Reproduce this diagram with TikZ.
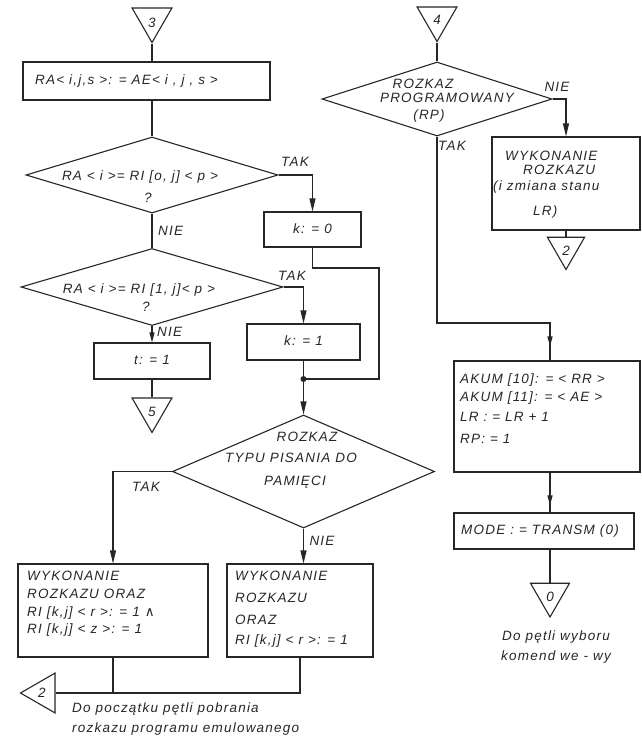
\documentclass[tikz,border=0pt]{standalone}
\usepackage{fontspec}
\setmainfont{Liberation Sans}[LetterSpace=9]
\newfontfamily\symfam{DejaVu Sans}
\usetikzlibrary{shapes.geometric,arrows.meta}
\definecolor{ink}{HTML}{262626}
\begin{document}
\begin{tikzpicture}[x=1pt,y=-1pt,
  every node/.style={text=ink},
  ln/.style={draw=ink, line width=1.1pt},
  arr/.style={ln, -{Triangle[length=13pt,width=6pt]}},
  smallarr/.style={ln, -{Triangle[length=10pt,width=5pt]}},
  box/.style={ln, rectangle, inner sep=0pt},
  dia/.style={ln, diamond, inner sep=0pt},
  tri/.style={ln, regular polygon, regular polygon sides=3, inner sep=0pt, minimum size=46pt},
  tx/.style={font=\itshape\fontsize{13.5}{16}\selectfont, inner sep=0pt, text height=10pt, text depth=3pt},
]
\useasboundingbox (0,0) rectangle (642,739);

% ---------- left branch: connector 3 ----------
\node[tri, shape border rotate=180] (t3) at (152,19.5) {};
\node[tx] (t3l) at (152,24) {3};
\node[box, minimum width=247pt, minimum height=38pt] (b1) at (146.5,81) {};
\node[tx, anchor=west] (b1t) at (35,81) {RA< i,j,s >: = AE< i , j , s >};

\node[dia, minimum width=252pt, minimum height=76pt] (d1) at (152,175) {};
\node[tx] (d1t) at (140,177) {RA < i >= RI [o, j] < p >};
\node[tx] (d1q) at (148,199) {?};
\node[tx] (d1y) at (295,163) {TAK};
\node[tx, anchor=west] (d1n) at (158,232) {NIE};

\node[dia, minimum width=262pt, minimum height=77pt] (d2) at (152,287) {};
\node[tx] (d2t) at (139,290) {RA < i >= RI [1, j]< p >};
\node[tx] (d2q) at (146,308) {?};
\node[tx] (d2y) at (292,277) {TAK};
\node[tx, anchor=west] (d2n) at (157,333) {NIE};

\node[box, tx, minimum width=116pt, minimum height=36pt] (t1) at (152,361) {t: = 1};
\node[tri, shape border rotate=180] (t5) at (152,409.5) {};
\node[tx] (t5l) at (152,413) {5};

\node[box, tx, minimum width=97pt, minimum height=35pt] (k0) at (312.5,229.5) {k: = 0};
\node[box, tx, minimum width=113pt, minimum height=36pt] (k1) at (303.5,342) {k: = 1};
\coordinate (kr) at (379,268);
\coordinate (j) at (303.5,379);

\node[dia, minimum width=262pt, minimum height=113pt] (d3) at (303.5,471.5) {};
\node[tx] (d3a) at (307,438) {ROZKAZ};
\node[tx] (d3b) at (291,459) {TYPU PISANIA  DO};
\node[tx] (d3c) at (295,482) {PAMIĘCI};
\node[tx] (d3y) at (146,488) {TAK};
\node[tx] (d3n) at (322,542) {NIE};

\node[box, minimum width=190pt, minimum height=93pt] (L) at (113,610.5) {};
\node[tx, anchor=west] (L1) at (27,577) {WYKONANIE};
\node[tx, anchor=west] (L2) at (27,595) {ROZKAZU  ORAZ};
\node[tx, anchor=west] (L3) at (27,613) {RI [k,j] < r >: = 1 {\symfam\upshape ∧}};
\node[tx, anchor=west] (L4) at (27,630) {RI [k,j] < z >: = 1};

\node[box, minimum width=146pt, minimum height=93pt] (R) at (300,610.5) {};
\node[tx, anchor=west] (R1) at (235,577) {WYKONANIE};
\node[tx, anchor=west] (R2) at (235,599) {ROZKAZU};
\node[tx, anchor=west] (R3) at (235,621) {ORAZ};
\node[tx, anchor=west] (R4) at (235,641) {RI [k,j]   < r >: = 1};

\node[tri, shape border rotate=90] (t2L) at (43.5,693) {};
\node[tx] (t2Ll) at (42,694) {2};
\coordinate (jb) at (300,693);
\node[tx, anchor=west] (n1) at (72,709) {Do  początku  pętli  pobrania};
\node[tx, anchor=west] (n2) at (72,729) {rozkazu  programu  emulowanego};

% connectors, left branch
\draw[ln] (t3.corner 1) -- (t3.corner 1 |- b1.north);
\draw[ln] (b1.south -| d1.north) -- (d1.north);
\draw[arr] (d1.east) -| (k0.north);
\draw[ln] (d1.south) -- (d2.north);
\draw[arr] (d2.east) -| (k1.north);
\draw[smallarr] (d2.south) -- (t1.north);
\draw[ln] (t1.south) -- (t5.north);
\draw[ln] (k1.south) -- (j);
\draw[ln] (k0.south) |- (kr) |- (j);
\fill[ink] (j) circle (3pt);
\draw[arr] (j) -- (d3.north);
\draw[arr] (d3.west) -| (L.north);
\draw[arr] (d3.south) -- (d3.south |- R.north);
\draw[ln] (L.south) -- (L.south |- jb);
\draw[ln] (t2L.east) -- (jb) -- (jb |- R.south);

% ---------- right branch: connector 4 ----------
\node[tri, shape border rotate=180] (t4) at (437,18.5) {};
\node[tx] (t4l) at (437,21) {4};
\node[dia, minimum width=230pt, minimum height=74pt] (d4) at (437,99) {};
\node[tx] (d4a) at (423,85) {ROZKAZ};
\node[tx] (d4b) at (447,99) {PROGRAMOWANY};
\node[tx] (d4c) at (429,116) {(RP)};
\node[tx] (d4n) at (557,88) {NIE};
\node[tx] (d4y) at (452,147) {TAK};

\node[box, minimum width=148pt, minimum height=93pt] (WR) at (566,183.5) {};
\node[tx, anchor=west] (W1) at (505,157) {WYKONANIE};
\node[tx, anchor=west] (W2) at (523,171) {ROZKAZU};
\node[tx, anchor=west] (W3) at (493,187) {(i zmiana stanu};
\node[tx, anchor=west] (W4) at (533,212) {LR)};
\node[tri, shape border rotate=180, minimum size=43pt] (t2R) at (566,248) {};
\node[tx] (t2Rl) at (566,252) {2};

\coordinate (bend) at (437,323);
\coordinate (vx) at (550,0);
\node[box, minimum width=186pt, minimum height=111pt] (AK) at (547,416.5) {};
\node[tx, anchor=west] (A1) at (460,380) {AKUM [10]: = < RR >};
\node[tx, anchor=west] (A2) at (460,398) {AKUM [11]: = < AE >};
\node[tx, anchor=west] (A3) at (460,418) {LR : = LR + 1};
\node[tx, anchor=west] (A4) at (460,440) {RP: = 1};

\node[box, minimum width=180pt, minimum height=36pt] (MO) at (544,531) {};
\node[tx, anchor=west] (M1) at (461,531) {MODE : = TRANSM (0)};
\node[tri, shape border rotate=180, minimum size=45pt] (t0) at (550,594.5) {};
\node[tx] (t0l) at (550,598) {0};
\node[tx] (e1) at (556,637) {Do  pętli  wyboru};
\node[tx] (e2) at (556,657) {komend  we - wy};

% connectors, right branch
\draw[ln] (t4.corner 1) -- (d4.north);
\draw[arr] (d4.east) -| (WR.north);
\draw[ln] (WR.south) -- (t2R.north);
\draw[ln] (d4.south) -- (bend) -| (vx |- AK.north);
\draw[smallarr, shorten >=14pt] (bend -| vx) -- (vx |- AK.north);
\draw[ln] (vx |- AK.south) -- (vx |- MO.north);
\draw[smallarr, shorten >=7pt] (vx |- AK.south) -- (vx |- MO.north);
\draw[ln] (vx |- MO.south) -- (t0.north);
\end{tikzpicture}
\end{document}
